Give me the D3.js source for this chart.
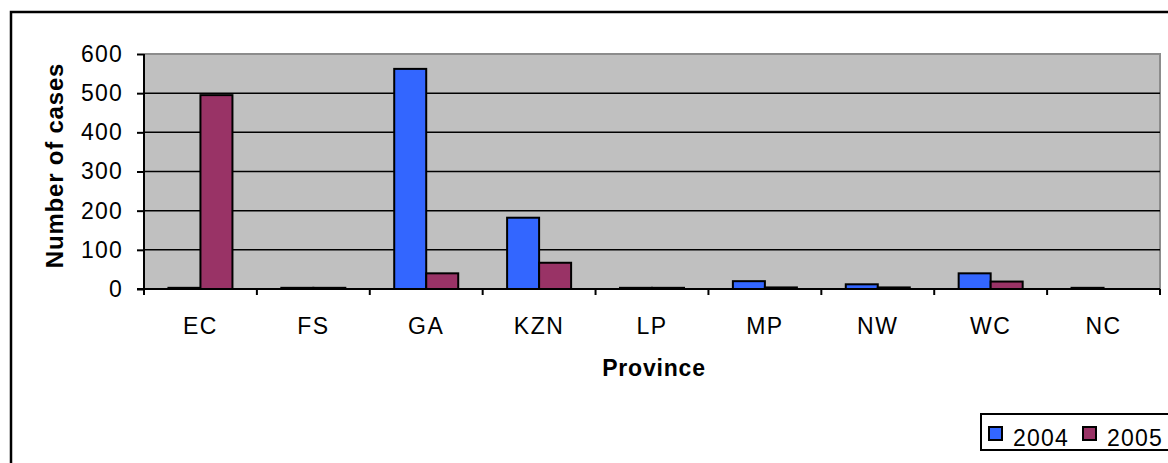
<!DOCTYPE html>
<html>
<head>
<meta charset="utf-8">
<script src="https://cdnjs.cloudflare.com/ajax/libs/d3/7.8.5/d3.min.js"></script>
<style>
  body { margin: 0; background: #fff; }
  svg { display: block; font-family: 'Liberation Sans', Arial, sans-serif; }
</style>
</head>
<body>
<div class="chart"></div>
<script>
// data
const provinces = ['EC', 'FS', 'GA', 'KZN', 'LP', 'MP', 'NW', 'WC', 'NC'];
const years = ['2004', '2005'];
const cases2004 = [3, 3, 562, 182, 3, 20, 12, 40, 3];
const cases2005 = [495, 3, 40, 67, 3, 4, 4, 19, 0];
const yTicks = [0, 100, 200, 300, 400, 500, 600];

const colors = { '2004': '#3366ff', '2005': '#993366' };

let W = 1168, H = 463;
let margin = { top: 54, right: 8, bottom: 174, left: 144 },
    width = W - margin.left - margin.right,
    height = H - margin.top - margin.bottom;

let svg = d3.select('.chart').append('svg')
    .attr('width', W)
    .attr('height', H);

// outer chart frame (cut off at right and bottom like the picture)
svg.append('rect')
    .attr('x', 11).attr('y', 12)
    .attr('width', W + 20).attr('height', H + 20)
    .style('fill', 'none')
    .style('stroke', '#000')
    .style('stroke-width', 2.5);

let g = svg.append('g')
    .attr('transform', 'translate(' + margin.left + ',' + margin.top + ')');

let x0 = d3.scaleBand().domain(provinces).range([0, width]).padding(0);
let groupW = x0.bandwidth() * 0.567;
let x1 = d3.scaleBand().domain(years).range([0, groupW]).padding(0);
let y = d3.scaleLinear().domain([0, 600]).range([height, 0]);

// plot area
g.append('rect')
    .attr('width', width).attr('height', height)
    .style('fill', '#c0c0c0');
g.append('path')
    .attr('d', 'M0,' + y(600) + 'H' + width + 'V' + y(0))
    .style('fill', 'none')
    .style('stroke', '#8c8c8c')
    .style('stroke-width', 2);

// gridlines
g.selectAll('.grid')
    .data(yTicks.filter(d => d > 0 && d < 600))
    .enter().append('line')
    .attr('x1', 0).attr('x2', width)
    .attr('y1', d => y(d)).attr('y2', d => y(d))
    .style('stroke', '#000')
    .style('stroke-width', 1.5);

// bars
let rows = provinces.map((p, i) => ({ p: p, vals: [
    { year: '2004', v: cases2004[i] },
    { year: '2005', v: cases2005[i] }] }));

let groups = g.selectAll('.grp')
    .data(rows)
    .enter().append('g')
    .attr('transform', d => 'translate(' + (x0(d.p) + (x0.bandwidth() - groupW) / 2) + ',0)');

groups.selectAll('rect')
    .data(d => d.vals.filter(v => v.v > 0))
    .enter().append('rect')
    .attr('x', d => x1(d.year))
    .attr('width', x1.bandwidth())
    .attr('y', d => y(d.v))
    .attr('height', d => y(0) - y(d.v))
    .style('fill', d => colors[d.year])
    .style('stroke', '#000')
    .style('stroke-width', 2);

// y axis
let yAxis = d3.axisLeft(y).tickValues(yTicks).tickSize(7).tickPadding(14);
let ya = g.append('g').call(yAxis);
ya.select('.domain').style('stroke-width', 2).attr('d', 'M0,' + y(600) + 'V' + y(0));
ya.selectAll('.tick line').style('stroke-width', 2);
ya.selectAll('text')
    .style('font-size', '23px')
    .style('letter-spacing', '1.2px')
    .style('fill', '#000');

// x axis: ticks at category boundaries
let xAxis = d3.axisBottom(x0).tickSize(0).tickPadding(29);
let xa = g.append('g')
    .attr('transform', 'translate(0,' + height + ')')
    .call(xAxis);
xa.select('.domain').style('stroke-width', 2).attr('d', 'M-7,0H' + width);
xa.selectAll('text')
    .style('font-size', '23px')
    .style('letter-spacing', '1.5px')
    .style('fill', '#000');
xa.selectAll('.bound')
    .data(provinces.concat(['end']))
    .enter().append('line')
    .attr('x1', (d, i) => i * x0.step())
    .attr('x2', (d, i) => i * x0.step())
    .attr('y1', 0).attr('y2', 6)
    .style('stroke', '#000')
    .style('stroke-width', 2);

// axis titles
svg.append('text')
    .attr('text-anchor', 'middle')
    .attr('transform', 'translate(63,' + (margin.top + height / 2 - 6) + ')rotate(-90)')
    .style('font-size', '24px')
    .style('font-weight', 'bold')
    .style('letter-spacing', '0.8px')
    .text('Number of cases');

svg.append('text')
    .attr('text-anchor', 'middle')
    .attr('x', margin.left + width / 2 + 2)
    .attr('y', 376)
    .style('font-size', '23px')
    .style('font-weight', 'bold')
    .style('letter-spacing', '0.8px')
    .text('Province');

// legend
let legend = svg.append('g').attr('transform', 'translate(981,414)');
legend.append('rect')
    .attr('width', 220).attr('height', 36)
    .style('fill', '#fff')
    .style('stroke', '#000')
    .style('stroke-width', 2);
let items = legend.selectAll('.item')
    .data(years)
    .enter().append('g')
    .attr('transform', (d, i) => 'translate(' + (8 + i * 94) + ',0)');
items.append('rect')
    .attr('y', 13).attr('width', 13).attr('height', 13)
    .style('fill', d => colors[d])
    .style('stroke', '#000')
    .style('stroke-width', 2);
items.append('text')
    .attr('x', 24).attr('y', 32)
    .style('font-size', '23px')
    .style('letter-spacing', '1.2px')
    .text(d => d);
</script>
</body>
</html>
